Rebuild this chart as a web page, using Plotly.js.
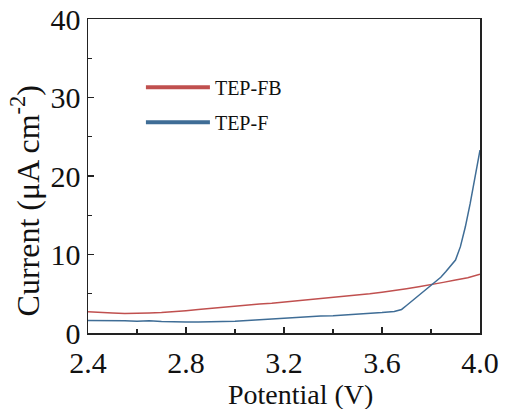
<!DOCTYPE html>
<html>
<head>
<meta charset="utf-8">
<script src="https://cdn.plot.ly/plotly-3.0.1.min.js"></script>
<style>html,body{margin:0;padding:0;background:#fff;}</style>
</head>
<body>
<div id="chart" style="width:505px;height:409px;"></div>
<script>
const fbPotential = [2.40,2.45,2.50,2.55,2.60,2.65,2.70,2.75,2.80,2.85,2.90,2.95,3.00,3.05,3.10,3.15,3.20,3.25,3.30,3.35,3.40,3.45,3.50,3.55,3.60,3.65,3.70,3.75,3.80,3.85,3.90,3.95,4.00];
const fbCurrent = [2.7,2.6,2.55,2.5,2.5,2.55,2.6,2.7,2.85,3.0,3.15,3.3,3.45,3.6,3.7,3.8,3.95,4.05,4.2,4.35,4.5,4.65,4.8,5.0,5.2,5.4,5.65,5.9,6.15,6.45,6.75,7.05,7.5];
const fPotential = [2.40,2.45,2.50,2.55,2.60,2.65,2.70,2.75,2.80,2.85,2.90,2.95,3.00,3.05,3.10,3.15,3.20,3.25,3.30,3.35,3.40,3.45,3.50,3.55,3.60,3.65,3.68,3.70,3.72,3.74,3.76,3.78,3.80,3.82,3.84,3.86,3.88,3.90,3.92,3.94,3.96,3.98,4.00];
const fCurrent = [1.6,1.6,1.55,1.55,1.5,1.55,1.45,1.4,1.4,1.4,1.4,1.45,1.5,1.6,1.7,1.8,1.9,2.0,2.1,2.15,2.2,2.3,2.4,2.45,2.6,2.75,3.0,3.5,4.0,4.5,5.0,5.5,6.0,6.5,7.1,7.8,8.5,9.3,11.0,13.5,16.5,19.8,23.3];
const seriesNames = ["TEP-FB", "TEP-F"];
const seriesColors = ["#c0504f", "#3f6d96"];
const xTicks = [2.4, 2.8, 3.2, 3.6, 4.0];
const xTickText = ["2.4", "2.8", "3.2", "3.6", "4.0"];
const yTicks = [0, 10, 20, 30, 40];
const xTitle = "Potential (V)";
const yTitle = "Current (μA cm<sup>-2</sup>)";

const font = "Liberation Serif, Times New Roman, serif";
const traces = [
  {x: fbPotential, y: fbCurrent, name: seriesNames[0], type: "scatter", mode: "lines",
   line: {color: seriesColors[0], width: 1.5}, showlegend: false},
  {x: fPotential, y: fCurrent, name: seriesNames[1], type: "scatter", mode: "lines",
   line: {color: seriesColors[1], width: 1.5}, showlegend: false},
  // legend-only entries (thicker key lines, as in the reference)
  {x: [null], y: [null], name: seriesNames[0], type: "scatter", mode: "lines",
   line: {color: seriesColors[0], width: 4}, legendgroup: "a", hoverinfo: "skip"},
  {x: [null], y: [null], name: seriesNames[1], type: "scatter", mode: "lines",
   line: {color: seriesColors[1], width: 4}, legendgroup: "b", hoverinfo: "skip"}
];
const axisCommon = {
  showline: true, linecolor: "#222", linewidth: 1.5, mirror: true,
  ticks: "inside", ticklen: 6, tickwidth: 1.5, tickcolor: "#222",
  showgrid: false, zeroline: false,
  tickfont: {family: font, size: 30, color: "#111"}
};
const layout = {
  width: 505, height: 409,
  margin: {l: 88, r: 25, t: 19, b: 76},
  paper_bgcolor: "#fff", plot_bgcolor: "#fff",
  font: {family: font, color: "#111"},
  xaxis: Object.assign({}, axisCommon, {
    range: [2.4, 4.0], tickvals: xTicks, ticktext: xTickText, ticklabelstandoff: 2,
    minor: {dtick: 0.2, ticks: "inside", ticklen: 4, tickwidth: 1.2, tickcolor: "#222"}
  }),
  yaxis: Object.assign({}, axisCommon, {
    range: [0, 40], tickvals: yTicks,
    minor: {dtick: 5, ticks: "inside", ticklen: 4, tickwidth: 1.2, tickcolor: "#222"}
  }),
  showlegend: true,
  legend: {x: 0.135, y: 0.845, xanchor: "left", yanchor: "top", bgcolor: "rgba(0,0,0,0)",
    font: {family: font, size: 20, color: "#111"}, traceorder: "grouped", tracegroupgap: 6,
    itemwidth: 64},
  annotations: [
    {text: xTitle, xref: "paper", yref: "paper", x: 0.541, y: -0.195, xanchor: "center", yanchor: "middle",
     showarrow: false, font: {family: font, size: 28, color: "#111"}},
    {text: yTitle, xref: "paper", yref: "paper", x: -0.16, y: 0.42, xanchor: "center", yanchor: "middle",
     textangle: -90, showarrow: false, font: {family: font, size: 32, color: "#111"}}
  ]
};
Plotly.newPlot("chart", traces, layout, {displayModeBar: false, staticPlot: true});
</script>
</body>
</html>
